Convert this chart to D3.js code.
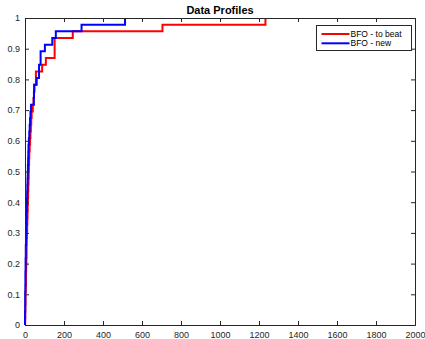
<!DOCTYPE html>
<html>
<head>
<meta charset="utf-8">
<script src="https://cdn.jsdelivr.net/npm/d3@7/dist/d3.min.js"></script>
<style>
  html, body { margin: 0; padding: 0; background: #fff; }
  svg { display: block; font-family: "Liberation Sans", Arial, Helvetica, sans-serif; }
</style>
</head>
<body>
<svg id="chart" width="425" height="339"></svg>
<script>
// Budget (function evaluations) at which each of the 46 problems is solved
const bfoToBeat = [1, 2, 2, 3, 3, 4, 5, 5, 6, 7, 8, 8, 9, 10, 11, 12,
  13, 14, 15, 16, 17, 18, 19, 20, 21, 22, 24, 26,
  28, 30, 32, 34, 40, 44, 46, 48, 56, 56, 88, 107,
  152, 152, 152, 245, 705, 1233];
const bfoNew = [0, 0, 1, 1, 1, 2, 2, 2, 3, 3, 4, 4, 5, 5, 6, 7,
  8, 9, 10, 11, 12, 13, 14, 15, 16, 17, 18, 20,
  22, 24, 26, 28, 31, 45, 46, 47, 60, 72, 72, 80,
  80, 102, 140, 158, 290, 513];

const seriesNames = ["BFO - to beat", "BFO - new"];
const seriesColors = ["#ff0000", "#0000ff"];
const xTicks = [0, 200, 400, 600, 800, 1000, 1200, 1400, 1600, 1800, 2000];
const yTicks = [0, 0.1, 0.2, 0.3, 0.4, 0.5, 0.6, 0.7, 0.8, 0.9, 1];
const title = "Data Profiles";

const svg = d3.select("#chart");
const mLeft = 25, mRight = 415, mTop = 18, mBottom = 325;
const x = d3.scaleLinear().domain([0, 2000]).range([mLeft, mRight]);
const y = d3.scaleLinear().domain([0, 1]).range([mBottom, mTop]);
const axisColor = "#262626";

// Step profile: fraction of problems solved within each budget
function profile(vals) {
  const n = vals.length;
  const s = vals.slice().sort((a, b) => a - b);
  const pts = [[0, 0]];
  const uniq = Array.from(new Set(s));
  uniq.forEach(v => pts.push([v, s.filter(d => d <= v).length / n]));
  return pts;
}

const line = d3.line().x(d => x(d[0])).y(d => y(d[1])).curve(d3.curveStepAfter);

// curves
[bfoToBeat, bfoNew].forEach((vals, i) => {
  svg.append("path")
    .attr("d", line(profile(vals)))
    .attr("fill", "none")
    .attr("stroke", seriesColors[i])
    .attr("stroke-width", 2)
    .attr("stroke-linejoin", "miter");
});

// axes (ticks inward, box on)
const fmtY = d => String(+d.toFixed(1));
const gB = svg.append("g").attr("transform", `translate(0,${mBottom})`)
  .call(d3.axisBottom(x).tickValues(xTicks).tickSize(-4).tickPadding(7).tickFormat(d3.format("d")));
const gT = svg.append("g").attr("transform", `translate(0,${mTop})`)
  .call(d3.axisTop(x).tickValues(xTicks).tickSize(-4).tickFormat(""));
const gL = svg.append("g").attr("transform", `translate(${mLeft},0)`)
  .call(d3.axisLeft(y).tickValues(yTicks).tickSize(-4).tickPadding(5).tickFormat(fmtY));
const gR = svg.append("g").attr("transform", `translate(${mRight},0)`)
  .call(d3.axisRight(y).tickValues(yTicks).tickSize(-4).tickFormat(""));

[gB, gT, gL, gR].forEach(g => {
  g.select(".domain").attr("stroke", axisColor).attr("stroke-width", 1);
  g.selectAll(".tick line").attr("stroke", axisColor).attr("stroke-width", 1);
  g.selectAll(".tick text").attr("fill", axisColor).attr("font-size", 9);
});

// title
svg.append("text")
  .attr("x", (mLeft + mRight) / 2).attr("y", 14)
  .attr("text-anchor", "middle")
  .attr("font-size", 11).attr("font-weight", "bold").attr("fill", "#000")
  .text(title);

// legend
const lg = svg.append("g");
lg.append("rect")
  .attr("x", 316.5).attr("y", 25.5).attr("width", 95).attr("height", 25)
  .attr("fill", "#fff").attr("stroke", axisColor).attr("stroke-width", 1);
seriesNames.forEach((name, i) => {
  const yy = 34 + i * 9.3;
  lg.append("line")
    .attr("x1", 321.5).attr("x2", 349.5).attr("y1", yy).attr("y2", yy)
    .attr("stroke", seriesColors[i]).attr("stroke-width", 2);
  lg.append("text")
    .attr("x", 350.5).attr("y", yy + 3)
    .attr("font-size", 8.5).attr("fill", "#000")
    .text(name);
});
</script>
</body>
</html>
